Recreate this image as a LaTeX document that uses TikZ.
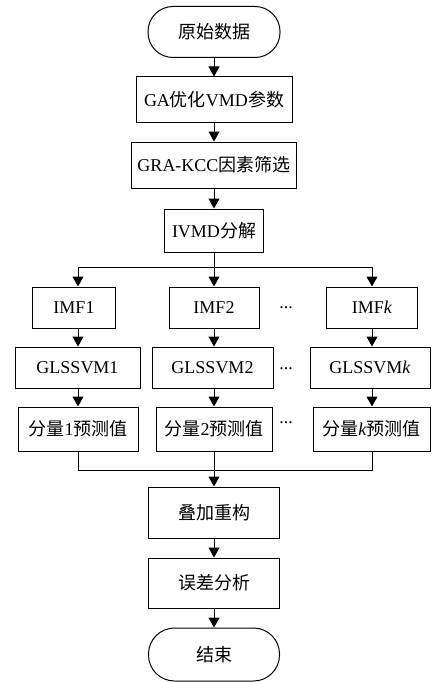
\documentclass[tikz,border=0pt]{standalone}
\usepackage{fontspec}
\setmainfont{Liberation Serif}
\newfontfamily\cjk{Noto Sans CJK SC}
\usetikzlibrary{arrows.meta}
\begin{document}
\begin{tikzpicture}[x=1pt,y=-1pt,
  box/.style={draw=black,line width=1pt,minimum height=#1,inner sep=0pt,font=\fontsize{18}{21}\selectfont},
  box/.default=44pt,
  term/.style={draw=black,line width=1pt,rounded corners=25pt,minimum width=132pt,minimum height=51pt,inner sep=0pt,font=\fontsize{18}{21}\selectfont},
  flow/.style={line width=1pt,-{Triangle[width=11pt,length=10pt]}},
  link/.style={line width=1pt},
  dots/.style={font=\fontsize{18}{21}\selectfont}]
\useasboundingbox (0,0) rectangle (431,682);
% main column
\node[term] (start) at (214,32) {\cjk 原始数据};
\node[box=46pt,minimum width=156pt] (ga) at (214,100) {GA{\cjk 优化}VMD{\cjk 参数}};
\node[box=46pt,minimum width=165pt] (gra) at (214,165) {GRA-KCC{\cjk 因素筛选}};
\node[box=43pt,minimum width=99pt] (ivmd) at (214,230.5) {IVMD{\cjk 分解}};
% row 1
\node[box=41pt,minimum width=83pt] (imf1) at (74,307.5) {IMF1};
\node[box=41pt,minimum width=90pt] (imf2) at (214,307.5) {IMF2};
\node[box=41pt,minimum width=91pt] (imfk) at (372,307.5) {IMF\textit{k}};
% row 2
\node[box=41pt,minimum width=125pt] (gl1) at (77.5,367.5) {GLSSVM1};
\node[box=41pt,minimum width=121pt] (gl2) at (212.5,367.5) {GLSSVM2};
\node[box=41pt,minimum width=120pt] (glk) at (370,367.5) {GLSSVM\textit{k}};
% row 3
\node[box=44pt,minimum width=120pt] (p1) at (78,429) {{\cjk 分量}1{\cjk 预测值}};
\node[box=44pt,minimum width=116pt] (p2) at (214,429) {{\cjk 分量}2{\cjk 预测值}};
\node[box=44pt,minimum width=117pt] (pk) at (371.5,429) {{\cjk 分量}\textit{k}{\cjk 预测值}};
% dots
\node[dots] (d1) at (286,308) {...};
\node[dots] (d2) at (286,369) {...};
\node[dots] (d3) at (286,423) {...};
% lower column
\node[box=51pt,minimum width=131pt] (sum) at (214,512.5) {\cjk 叠加重构};
\node[box=50pt,minimum width=131pt] (err) at (214,583) {\cjk 误差分析};
\node[term,minimum width=131pt,minimum height=53pt,rounded corners=26pt] (end) at (214,654.5) {\cjk 结束};
% split / merge points
\coordinate (split) at (214,267);
\coordinate (merge) at (214,470);
% connectors
\draw[flow] (start) -- (ga);
\draw[flow] (ga) -- (gra);
\draw[flow] (gra) -- (ivmd);
\draw[flow] (ivmd) -- (imf2);
\draw[flow] (split) -| (imf1.north -| 78,0);
\draw[flow] (split) -| (imfk.north -| 372,0);
\draw[flow] (imf1.south -| 78,0) -- (gl1.north -| 78,0);
\draw[flow] (imf2) -- (gl2.north -| 214,0);
\draw[flow] (imfk.south -| 372,0) -- (glk.north -| 372,0);
\draw[flow] (gl1.south -| 78,0) -- (p1);
\draw[flow] (gl2.south -| 214,0) -- (p2);
\draw[flow] (glk.south -| 372,0) -- (pk.north -| 372,0);
\draw[link] (p1) |- (merge);
\draw[link] (pk.south -| 372,0) |- (merge);
\draw[flow] (p2) -- (sum);
\draw[flow] (sum) -- (err);
\draw[flow] (err) -- (end);
\end{tikzpicture}
\end{document}
